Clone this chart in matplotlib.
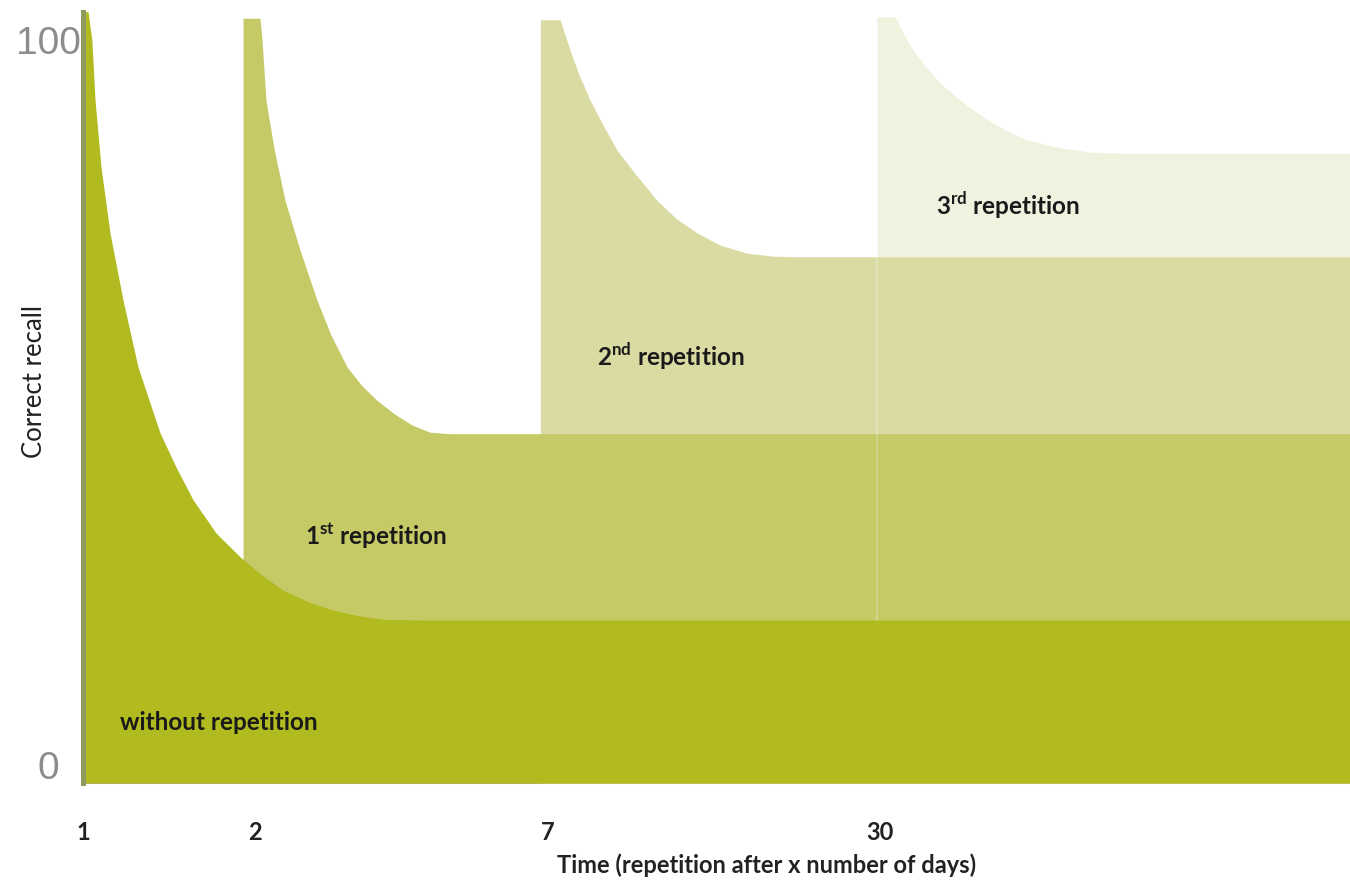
import matplotlib
matplotlib.use("Agg")
import matplotlib.pyplot as plt

# ---------------- data ----------------
# x: position along the time axis (0 = first learning, 100 = right edge)
# y: correct recall (0..100 scale of the axis)
tick_pos = [0, 13.6, 36.7, 62.9]
tick_labels = ["1", "2", "7", "30"]

without_x = [0, 0.4, 0.7, 0.95, 1.42, 2.13, 3.16, 4.34, 6.08, 7.34, 8.68, 10.5, 12.4, 14.1, 15.8, 17.8, 19.7, 21.7, 23.7, 26.6, 100]
without_y = [103.9, 103.9, 100.0, 91.7, 82.5, 73.4, 64.1, 54.9, 45.8, 41.1, 36.6, 32.0, 28.7, 26.2, 24.1, 22.5, 21.4, 20.6, 20.1, 20.0, 20.0]

rep1_x = [12.63, 13.97, 14.13, 14.44, 15.1, 15.94, 17.13, 18.47, 19.57, 20.84, 22.02, 23.2, 24.6, 25.97, 27.4, 28.97, 100]
rep1_y = [103.0, 103.0, 100.0, 91.7, 84.8, 77.9, 71.0, 64.1, 59.3, 54.9, 52.3, 50.3, 48.4, 46.9, 45.9, 45.7, 45.7]

rep2_x = [36.1, 37.65, 38.44, 39.15, 40.02, 41.04, 42.15, 43.65, 45.3, 46.8, 48.46, 50.28, 52.41, 54.38, 56.35, 100]
rep2_y = [102.8, 102.8, 98.6, 95.2, 91.7, 88.3, 84.8, 81.4, 77.9, 75.4, 73.4, 71.7, 70.6, 70.2, 70.1, 70.1]

rep3_x = [62.67, 64.09, 64.72, 65.51, 66.46, 67.64, 69.22, 71.03, 72.77, 74.51, 76.95, 79.72, 82.64, 100]
rep3_y = [103.2, 103.2, 101.0, 98.6, 96.4, 94.1, 91.7, 89.4, 87.6, 86.2, 85.2, 84.5, 84.4, 84.4]

labels = ["without repetition", "1$^{\\mathbf{st}}$ repetition",
          "2$^{\\mathbf{nd}}$ repetition", "3$^{\\mathbf{rd}}$ repetition"]
label_x = [2.9, 17.5, 40.6, 67.3]
label_y = [5.9, 31.6, 56.4, 77.2]

colors = ["#b1ba1e", "#c5c966", "#d9dba3", "#f0f2e0"]

# ---------------- figure ----------------
FONT = ["Lato", "DejaVu Sans"]
plt.rcParams['mathtext.fontset'] = 'custom'
plt.rcParams['mathtext.rm'] = 'Lato'
plt.rcParams['mathtext.bf'] = 'Lato:bold'

W, H = 1350, 883
fig = plt.figure(figsize=(W / 100, H / 100), dpi=100)
ax = fig.add_axes([83 / W, (H - 783) / H, (W - 83) / W, (783 - 10) / H])

ybottom = -2.48
ax.set_xlim(0, 100)
ax.set_ylim(ybottom, 104.14)

series = [(without_x, without_y), (rep1_x, rep1_y), (rep2_x, rep2_y), (rep3_x, rep3_y)]
# draw lightest (latest) first so earlier curves sit on top
for i in [3, 2, 1, 0]:
    xs, ys = series[i]
    ax.fill_between(xs, ybottom, ys, color=colors[i], linewidth=0, zorder=2 + (3 - i))

# faint seam at the start of the 3rd repetition
ax.plot([rep3_x[0], rep3_x[0]], [without_y[-1], rep2_y[-1]], color="white", alpha=0.22, lw=1.5, zorder=6)

for t, x, y in zip(labels, label_x, label_y):
    ax.text(x, y, t, fontsize=17.5, fontweight="bold", family=FONT,
            color="#1a1a1a", ha="left", va="center", zorder=10)

# axes styling
for s in ["top", "right"]:
    ax.spines[s].set_visible(False)
ax.spines["left"].set_color("#8f9a5c")
ax.spines["left"].set_linewidth(3.6)
ax.spines["left"].set_bounds(ybottom, without_y[0])
ax.spines["left"].set_zorder(8)
ax.spines["bottom"].set_color("#a3a38a")
ax.spines["bottom"].set_linewidth(1.5)

ax.set_yticks([0, 100])
ax.set_yticklabels(["0", "100"])
ax.tick_params(axis="y", length=0, pad=25, labelsize=28, labelcolor="#8c8c8c")
for lab in ax.get_yticklabels():
    lab.set_horizontalalignment("center")
    lab.set_family("Liberation Sans")

ax.set_xticks(tick_pos)
ax.set_xticklabels(tick_labels)
ax.tick_params(axis="x", length=0, pad=27, labelsize=17, labelcolor="#222222")
for lab in ax.get_xticklabels():
    lab.set_family(FONT)
    lab.set_fontweight("bold")

fig.text(767 / W, 1 - 865 / H, "Time (repetition after x number of days)", ha="center", va="center",
         fontsize=17, family=FONT, fontweight="bold", color="#222222")
fig.text(35 / W, 1 - 382 / H, "Correct recall", ha="center", va="center", rotation=90,
         fontsize=18.5, family=FONT, color="#222222")

fig.savefig("out.png", dpi=100)
